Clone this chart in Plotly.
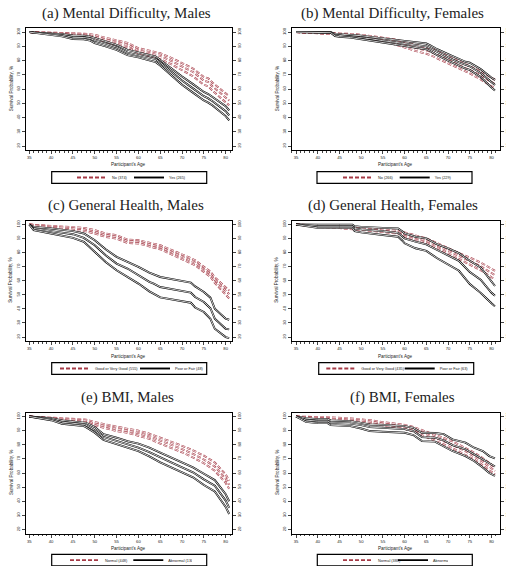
import plotly.graph_objects as go

W, H = 506, 566

# ---------------- data ----------------
# (a) Mental Difficulty, Males
ages_a = [35, 37.5, 40, 42.5, 45, 47.5, 49, 50, 52.5, 55, 57.5, 60, 62.5, 64, 65, 67.5, 70, 72.5, 75, 76, 77, 80, 80.8]
a_no_hi = [100, 99.9, 99.8, 99.6, 99.3, 98.9, 98.5, 98.1, 96.0, 94.1, 92.5, 88.7, 86.8, 86.0, 85.2, 82.0, 78.2, 74.5, 68.5, 67.5, 64.5, 57.0, 55.0]
a_no_mid = [100, 99.8, 99.5, 99.2, 98.8, 98.3, 97.7, 96.9, 94.6, 92.7, 91.0, 87.1, 85.0, 84.2, 83.3, 79.8, 75.8, 72.0, 66.0, 65.0, 61.8, 54.0, 52.0]
a_no_lo = [100, 99.6, 99.2, 98.8, 98.3, 97.7, 96.9, 95.8, 93.2, 91.1, 89.3, 85.2, 83.0, 82.2, 81.0, 77.5, 73.0, 69.0, 63.0, 62.0, 58.8, 50.5, 48.6]
a_yes_hi = [100, 99.7, 99.3, 98.6, 97.6, 97.5, 96.8, 95.8, 93.8, 91.1, 87.5, 85.6, 84.0, 82.8, 80.5, 74.5, 68.8, 63.5, 58.0, 56.5, 54.5, 48.0, 45.0]
a_yes_mid = [100, 99.4, 98.8, 97.8, 96.4, 96.2, 95.5, 94.1, 91.9, 89.4, 85.6, 84.0, 82.2, 81.0, 78.6, 72.0, 66.0, 60.5, 55.0, 53.5, 51.5, 44.5, 41.5]
a_yes_lo = [100, 99.0, 98.2, 97.0, 95.2, 95.0, 94.0, 92.3, 90.0, 87.5, 83.8, 82.3, 80.2, 78.9, 76.5, 69.5, 63.0, 57.5, 52.0, 50.5, 48.5, 41.0, 38.0]

# (b) Mental Difficulty, Females
ages_b = [35, 40, 43, 44, 45, 47.5, 50, 52.5, 55, 57.5, 60, 62.5, 65, 66, 67.5, 70, 72.5, 74, 75, 77.5, 80, 80.8]
b_no_hi = [100, 99.7, 99.5, 99.4, 99.3, 98.8, 98.2, 97.3, 96.3, 95.0, 93.0, 91.2, 89.5, 88.5, 86.5, 83.0, 79.6, 77.8, 76.5, 72.5, 68.0, 66.5]
b_no_mid = [100, 99.5, 99.2, 99.0, 98.8, 98.2, 97.3, 96.2, 95.0, 93.3, 91.0, 89.0, 87.2, 86.2, 84.1, 80.5, 77.0, 75.2, 73.8, 69.7, 65.0, 63.5]
b_no_lo = [100, 99.3, 98.9, 98.6, 98.3, 97.6, 96.4, 95.1, 93.6, 91.6, 89.0, 86.8, 84.8, 83.8, 81.6, 78.0, 74.4, 72.5, 71.0, 66.8, 62.0, 60.5]
b_yes_hi = [100, 100, 99.9, 98.8, 98.6, 98.2, 97.5, 96.5, 95.5, 94.6, 93.7, 92.8, 92.0, 90.5, 88.0, 84.5, 81.0, 79.2, 78.5, 74.0, 68.0, 66.5]
b_yes_mid = [100, 99.9, 99.8, 98.0, 97.7, 97.2, 96.3, 95.2, 94.0, 93.0, 92.0, 91.0, 90.0, 88.5, 86.0, 82.3, 78.7, 76.8, 76.0, 71.3, 64.5, 62.8]
b_yes_lo = [100, 99.8, 99.6, 97.3, 96.8, 96.2, 95.0, 93.8, 92.5, 91.4, 90.2, 89.1, 88.0, 86.5, 83.8, 80.0, 76.3, 74.4, 73.5, 68.5, 61.0, 59.0]

# (c) General Health, Males
ages_c = [35, 36, 40, 45, 47.5, 50, 52.5, 55, 57.5, 60, 62.5, 63.5, 65, 72, 73, 75, 76.5, 77.5, 80, 80.8]
c_good_hi = [100, 99.8, 99.0, 97.9, 97.6, 96.0, 93.6, 92.4, 89.3, 88.8, 87.2, 86.3, 85.3, 76.1, 74.6, 69.9, 66.5, 62.5, 55.0, 53.0]
c_good_mid = [100, 99.6, 98.3, 97.2, 96.4, 94.8, 92.4, 91.2, 88.1, 87.7, 85.8, 85.0, 83.9, 74.4, 72.9, 68.2, 64.7, 60.5, 52.5, 50.5]
c_good_lo = [100, 99.4, 97.6, 96.2, 95.5, 93.6, 91.2, 90.0, 86.9, 86.5, 84.6, 83.6, 82.4, 72.5, 71.0, 66.3, 62.8, 58.5, 50.0, 47.5]
c_poor_hi = [100, 98.3, 97.2, 95.3, 93.6, 88.8, 82.4, 77.0, 73.4, 69.9, 65.8, 64.5, 62.7, 58.7, 56.0, 52.0, 48.0, 40.2, 33.1, 32.3]
c_poor_mid = [100, 97.2, 95.3, 93.1, 90.5, 85.3, 78.2, 72.2, 68.7, 63.9, 59.2, 58.0, 55.6, 51.6, 48.5, 44.9, 40.5, 33.1, 25.9, 25.5]
c_poor_lo = [100, 96.0, 93.6, 90.5, 87.7, 80.5, 73.4, 67.5, 62.7, 58.0, 52.5, 51.0, 48.2, 44.4, 41.0, 37.8, 33.0, 25.9, 20.0, 19.3]

# (d) General Health, Females
ages_d = [35, 37.5, 40, 45, 48, 48.5, 50, 55, 58.5, 59.5, 60, 62.5, 65, 67.5, 70, 72.5, 75, 77.5, 80, 80.8]
d_good_hi = [100, 99.6, 99.3, 98.8, 98.5, 98.4, 97.9, 96.5, 95.5, 95.0, 94.4, 92.3, 90.1, 86.8, 83.1, 79.6, 76.5, 73.0, 68.5, 67.0]
d_good_mid = [100, 99.3, 98.8, 98.1, 97.7, 97.6, 97.2, 95.5, 94.5, 93.8, 93.0, 90.8, 88.5, 85.1, 81.4, 77.5, 74.0, 70.3, 65.5, 64.0]
d_good_lo = [100, 99.0, 98.3, 97.4, 96.9, 96.8, 96.2, 94.6, 93.5, 92.5, 91.6, 89.2, 86.9, 83.3, 79.6, 75.5, 71.5, 67.5, 62.5, 61.0]
d_poor_hi = [100, 99.8, 99.8, 99.8, 99.8, 98.8, 98.3, 97.6, 97.2, 95.0, 93.7, 91.3, 90.1, 85.9, 83.1, 79.6, 74.2, 69.5, 59.0, 56.3]
d_poor_mid = [100, 99.3, 98.8, 98.8, 98.8, 97.2, 96.5, 95.3, 94.1, 91.5, 90.1, 87.8, 85.9, 81.9, 77.9, 74.2, 66.2, 60.8, 51.5, 49.3]
d_poor_lo = [100, 98.8, 97.6, 97.6, 97.6, 95.3, 94.4, 92.5, 91.3, 88.5, 86.6, 83.1, 81.2, 76.0, 71.3, 67.1, 57.7, 51.4, 44.0, 41.8]

# (e) BMI, Males
ages_e = [35, 37.5, 40, 42.5, 45, 47.5, 48, 50, 52, 55, 57.5, 60, 62.5, 65, 67.5, 70, 72.5, 75, 77.5, 80, 80.8]
e_norm_hi = [100, 99.6, 99.1, 98.8, 98.4, 98.0, 97.8, 96.0, 94.6, 92.5, 91.3, 90.0, 87.8, 85.0, 82.3, 79.3, 76.0, 72.3, 67.5, 59.0, 54.5]
e_norm_mid = [100, 99.3, 98.6, 98.2, 97.7, 97.2, 97.0, 94.9, 93.4, 91.1, 89.9, 88.3, 86.0, 83.0, 80.2, 77.0, 73.5, 69.6, 64.6, 56.0, 51.6]
e_norm_lo = [100, 99.0, 98.1, 97.5, 96.7, 96.2, 96.0, 93.7, 92.2, 89.7, 88.5, 86.6, 84.2, 80.8, 78.0, 74.7, 71.0, 66.9, 61.6, 53.0, 48.8]
e_abn_hi = [100, 99.4, 98.8, 97.2, 96.5, 96.0, 95.5, 92.5, 87.5, 85.0, 82.5, 80.8, 78.0, 74.5, 71.0, 67.5, 64.0, 59.5, 55.0, 45.0, 40.0]
e_abn_mid = [100, 99.0, 98.1, 96.0, 95.3, 94.4, 93.8, 90.2, 85.5, 82.7, 80.2, 78.0, 74.8, 71.0, 67.5, 64.0, 60.5, 55.5, 51.0, 40.5, 35.3]
e_abn_lo = [100, 98.6, 97.4, 94.9, 94.2, 93.2, 92.5, 88.5, 83.5, 80.4, 77.8, 75.5, 71.8, 67.5, 64.0, 60.5, 57.0, 51.5, 47.0, 36.0, 31.0]

# (f) BMI, Females
ages_f = [35, 37.3, 40, 42.3, 43, 47.5, 50, 52, 55, 60, 62, 64, 67, 69, 71, 74, 76, 78, 79.5, 80.8]
f_norm_hi = [100, 99.9, 99.8, 99.5, 99.4, 98.6, 98.1, 97.4, 96.0, 94.1, 92.6, 90.5, 87.2, 84.8, 82.4, 78.0, 74.5, 70.5, 67.0, 64.0]
f_norm_mid = [100, 99.6, 99.3, 98.8, 98.7, 97.8, 97.2, 96.4, 94.8, 92.7, 91.0, 88.7, 85.2, 82.5, 80.0, 75.5, 72.0, 68.0, 64.5, 61.5]
f_norm_lo = [100, 99.3, 98.8, 98.2, 98.0, 97.0, 96.2, 95.4, 93.7, 91.3, 89.4, 86.9, 83.2, 80.2, 77.6, 73.0, 69.5, 65.5, 62.0, 59.0]
f_abn_hi = [100, 98.8, 98.1, 98.1, 97.2, 96.7, 95.5, 94.4, 94.1, 93.2, 92.0, 88.5, 88.3, 87.5, 83.8, 81.5, 77.9, 75.6, 72.0, 70.4]
f_abn_mid = [100, 97.5, 96.7, 96.7, 95.5, 95.0, 93.9, 92.5, 92.0, 91.1, 89.7, 85.4, 85.0, 83.1, 79.8, 76.8, 73.2, 69.7, 66.5, 64.6]
f_abn_lo = [100, 96.2, 95.3, 95.3, 93.9, 93.2, 91.5, 89.7, 89.2, 88.5, 86.9, 82.6, 82.2, 79.1, 75.6, 72.0, 68.5, 63.9, 60.0, 58.0]

titles = ["(a) Mental Difficulty, Males", "(b) Mental Difficulty, Females",
          "(c) General Health, Males", "(d) General Health, Females",
          "(e) BMI, Males", "(f) BMI, Females"]
red_names = ["No (374)", "No (266)", "Good or Very Good (555)", "Good or Very Good (435)", "Normal (448)", "Normal (388)"]
black_names = ["Yes (265)", "Yes (229)", "Poor or Fair (48)", "Poor or Fair (63)", "Abnormal (130)", "Abnormal (74)"]
x_title = "Participant's Age"
y_title = "Survival Probability, %"
x_ticks = [35, 40, 45, 50, 55, 60, 65, 70, 75, 80]
y_ticks = [20, 30, 40, 50, 60, 70, 80, 90, 100]

panel_ages = [ages_a, ages_b, ages_c, ages_d, ages_e, ages_f]
panel_red = [(a_no_hi, a_no_mid, a_no_lo), (b_no_hi, b_no_mid, b_no_lo),
             (c_good_hi, c_good_mid, c_good_lo), (d_good_hi, d_good_mid, d_good_lo),
             (e_norm_hi, e_norm_mid, e_norm_lo), (f_norm_hi, f_norm_mid, f_norm_lo)]
panel_black = [(a_yes_hi, a_yes_mid, a_yes_lo), (b_yes_hi, b_yes_mid, b_yes_lo),
               (c_poor_hi, c_poor_mid, c_poor_lo), (d_poor_hi, d_poor_mid, d_poor_lo),
               (e_abn_hi, e_abn_mid, e_abn_lo), (f_abn_hi, f_abn_mid, f_abn_lo)]

# ---------------- layout geometry (pixels) ----------------
col_x = [(25.7, 231.5), (291.5, 499.5)]
row_y = [(28.3, 150.0), (220.7, 341.0), (412.7, 533.5)]
col_xrange = [[34.18, 81.33], [33.96, 81.84]]
yrange = [17.2, 102.7]
title_pos = [(126.3, 14), (392, 14), (126.3, 205.5), (392.7, 205.5), (127, 397.5), (402.7, 397.5)]
xtitle_y = [164, 164, 356.5, 356.5, 548.3, 548.3]
ytitle_x = [11, 277, 11, 277, 11, 277]
legend_box = [(51.7, 171.7), (317, 171.7), (51.7, 362.7), (318.7, 362.7), (51.7, 554.3), (317.3, 554.3)]
legend_sample_x = [77, 343, 60, 326.3, 70, 343]
legend_pitch = [57, 56.7, 80, 78.4, 63.3, 55]
LEG_W, LEG_H = 155, 11.6

RED = "#A53A46"
BLACK = "#000000"
SANS = "Liberation Sans, Arial, sans-serif"
TICKFONT = dict(family=SANS, size=4.2, color="#222")
AXTITLEFONT = dict(family=SANS, size=4.6, color="#222")

fig = go.Figure()
layout = dict(width=W, height=H, margin=dict(l=0, r=0, t=0, b=0, autoexpand=False),
              paper_bgcolor="white", plot_bgcolor="white", showlegend=True,
              hovermode=False, annotations=[], shapes=[])

for i in range(6):
    n = i + 1
    r, c = divmod(i, 2)
    xl, xr = col_x[c]
    yt, yb = row_y[r]
    xa = "x" if n == 1 else f"x{n}"
    ya = "y" if n == 1 else f"y{n}"
    ya2 = f"y{n + 6}"
    leg = "legend" if n == 1 else f"legend{n}"
    ages = panel_ages[i]

    def add(vals, color, dash, yref, name, show):
        fig.add_trace(go.Scatter(x=ages, y=vals, mode="lines", xaxis=xa, yaxis=yref,
                                 line=dict(color=color, width=1.9, dash=dash),
                                 name=name, showlegend=show, legend=leg))
        fig.add_trace(go.Scatter(x=ages, y=vals, mode="lines", xaxis=xa, yaxis=yref,
                                 line=dict(color="white", width=0.8, dash=dash),
                                 showlegend=False, legend=leg))

    for k, vals in enumerate(panel_red[i]):
        add(vals, RED, "4px,2px", ya, red_names[i], k == 1)
    for k, vals in enumerate(panel_black[i]):
        add(vals, BLACK, "solid", ya2, black_names[i], k == 1)

    xkey = "xaxis" if n == 1 else f"xaxis{n}"
    ykey = "yaxis" if n == 1 else f"yaxis{n}"
    layout[xkey] = dict(domain=[xl / W, xr / W], anchor=ya, range=col_xrange[c],
                        tickvals=x_ticks, ticks="outside", ticklen=3, tickwidth=0.6,
                        minor=dict(dtick=1, ticks="outside", ticklen=1.5, tickwidth=0.6, tick0=35),
                        showline=True, linecolor="black", linewidth=1, mirror=True,
                        showgrid=False, zeroline=False, tickfont=TICKFONT)
    layout[ykey] = dict(domain=[1 - yb / H, 1 - yt / H], anchor=xa, range=yrange,
                        tickvals=y_ticks, tickangle=-90, ticks="outside", ticklen=3, tickwidth=0.6,
                        showline=True, linecolor="black", linewidth=1,
                        showgrid=False, zeroline=False, tickfont=TICKFONT)
    layout[f"yaxis{n + 6}"] = dict(overlaying=ya, anchor=xa, side="right", range=yrange,
                                   tickvals=y_ticks, tickangle=-90, ticks="outside", ticklen=3, tickwidth=0.6,
                                   showline=True, linecolor="black", linewidth=1,
                                   showgrid=False, zeroline=False, tickfont=TICKFONT)
    # axis titles
    layout["annotations"].append(dict(text=x_title, x=(xl + xr) / 2 / W, y=1 - xtitle_y[i] / H,
                                      xref="paper", yref="paper", xanchor="center", yanchor="middle",
                                      showarrow=False, font=AXTITLEFONT))
    layout["annotations"].append(dict(text=y_title, x=ytitle_x[i] / W, y=1 - (yt + yb) / 2 / H,
                                      xref="paper", yref="paper", xanchor="center", yanchor="middle",
                                      textangle=-90, showarrow=False, font=AXTITLEFONT))
    # legend frame and legend
    lx, ly = legend_box[i]
    layout["shapes"].append(dict(type="rect", xref="paper", yref="paper",
                                 x0=lx / W, x1=(lx + LEG_W) / W,
                                 y0=1 - (ly + LEG_H) / H, y1=1 - ly / H,
                                 line=dict(color="black", width=1.2), fillcolor="rgba(0,0,0,0)"))
    layout[leg] = dict(x=(legend_sample_x[i] - 5) / W, y=1 - (ly + LEG_H / 2) / H,
                       xref="container", yref="container",
                       xanchor="left", yanchor="middle",
                       orientation="h", borderwidth=0, bgcolor="rgba(0,0,0,0)",
                       font=dict(family=SANS, size=3.8, color="#222"),
                       entrywidth=legend_pitch[i] - 45, itemwidth=30, tracegroupgap=0)
    tx, ty = title_pos[i]
    layout["annotations"].append(dict(text=titles[i], x=tx / W, y=1 - ty / H, xref="paper", yref="paper",
                                      xanchor="center", yanchor="middle", showarrow=False,
                                      font=dict(family="Liberation Serif, Times New Roman, serif", size=15, color="#222")))

fig.update_layout(**layout)
fig.write_html("out.html", config={"displayModeBar": False},
               post_script="document.body.style.margin='0';document.body.style.padding='0';")
